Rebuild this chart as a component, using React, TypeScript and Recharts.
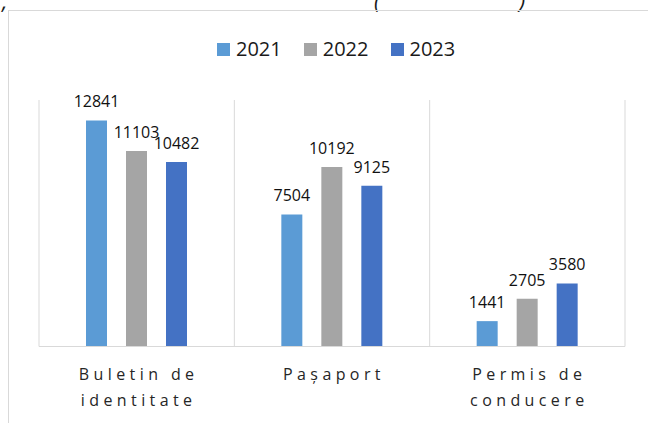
import React from "react";
import {
  BarChart,
  Bar,
  XAxis,
  YAxis,
  CartesianGrid,
  Legend,
  LabelList,
} from "recharts";

const categories = ["Buletin de identitate", "Pașaport", "Permis de conducere"];
const years = ["2021", "2022", "2023"];
const values2021 = [12841, 7504, 1441];
const values2022 = [11103, 10192, 2705];
const values2023 = [10482, 9125, 3580];
const colors = ["#5B9BD5", "#A5A5A5", "#4472C4"];

const data = categories.map((name, i) => ({
  name,
  "2021": values2021[i],
  "2022": values2022[i],
  "2023": values2023[i],
}));

const font = "'Open Sans', 'Noto Sans', sans-serif";

// two-line category labels, split on the last space
const CategoryTick = (props: any) => {
  const { x, y, payload } = props;
  const label: string = payload.value;
  const cut = label.lastIndexOf(" ");
  const lines = cut > 0 ? [label.slice(0, cut), label.slice(cut + 1)] : [label];
  return (
    <text
      x={x}
      y={y}
      textAnchor="middle"
      fill="#262626"
      fontSize={16}
      letterSpacing={4.4}
      fontFamily={font}
    >
      {lines.map((line, i) => (
        <tspan key={i} x={x + 2} dy={i === 0 ? 25 : 26}>
          {line}
        </tspan>
      ))}
    </text>
  );
};

const renderLegend = () => (
  <div style={{ display: "flex", fontFamily: font, fontSize: 20, lineHeight: "20px", color: "#1a1a1a" }}>
    {years.map((year, i) => (
      <span
        key={year}
        style={{ display: "flex", alignItems: "center", marginRight: i < years.length - 1 ? 22 : 0 }}
      >
        <span style={{ width: 13, height: 13, background: colors[i], marginRight: 6 }} />
        <span>{year}</span>
      </span>
    ))}
  </div>
);

// category boundaries instead of centres
const boundaryLines = ({ offset }: any) => {
  const n = categories.length;
  return Array.from({ length: n + 1 }, (_, i) => offset.left + (offset.width * i) / n);
};

export default function App() {
  return (
    <div
      style={{
        position: "absolute",
        left: 0,
        top: 0,
        width: 648,
        height: 423,
        overflow: "hidden",
        background: "#fff",
      }}
    >
      <div
        style={{
          position: "absolute",
          left: 0,
          top: -15,
          width: 648,
          fontFamily: font,
          fontStyle: "italic",
          fontSize: 22,
          color: "#1a1a1a",
        }}
      >
        <span style={{ position: "absolute", left: 2 }}>,</span>
        <span style={{ position: "absolute", left: 374 }}>(</span>
        <span style={{ position: "absolute", left: 519 }}>)</span>
      </div>
      <div
        style={{
          position: "absolute",
          left: 8,
          top: 10,
          width: 660,
          height: 440,
          border: "1px solid #d9d9d9",
        }}
      />
      <div style={{ position: "absolute", left: 0, top: 0 }}>
        <BarChart
          width={648}
          height={423}
          data={data}
          margin={{ top: 80, right: 23, left: 39, bottom: 0 }}
          barSize={21}
          barGap={19}
        >
          <CartesianGrid
            horizontal={false}
            stroke="#d9d9d9"
            verticalCoordinatesGenerator={boundaryLines}
          />
          <XAxis
            dataKey="name"
            height={76.5}
            axisLine={{ stroke: "#d9d9d9" }}
            tickLine={false}
            interval={0}
            tick={<CategoryTick />}
          />
          <YAxis hide domain={[0, 14000]} />
          <Legend
            verticalAlign="top"
            content={renderLegend}
            wrapperStyle={{ top: 39, left: 217, width: 280, height: 20 }}
          />
          {years.map((year, i) => (
            <Bar key={year} dataKey={year} fill={colors[i]} isAnimationActive={false}>
              <LabelList
                dataKey={year}
                position="top"
                offset={13}
                fill="#111"
                fontSize={16}
                fontFamily={font}
              />
            </Bar>
          ))}
        </BarChart>
      </div>
    </div>
  );
}
